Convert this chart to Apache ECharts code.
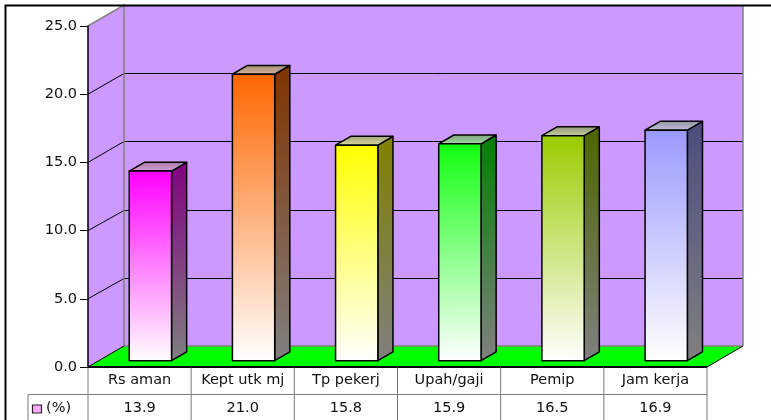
<!DOCTYPE html>
<html>
<head>
<meta charset="utf-8">
<script src="https://cdn.jsdelivr.net/npm/echarts@6/dist/echarts.min.js"></script>
<style>
  html, body { margin: 0; padding: 0; background: #fff; }
  #chart { width: 771px; height: 420px; }
</style>
</head>
<body>
<div id="chart"></div>
<script>
// data
const categories = ["Rs aman", "Kept utk mj", "Tp pekerj", "Upah/gaji", "Pemip", "Jam kerja"];
const values = [13.9, 21.0, 15.8, 15.9, 16.5, 16.9];
const seriesName = "(%)";
const yTicks = [0, 5, 10, 15, 20, 25];
const yTickLabels = ["0.0", "5.0", "10.0", "15.0", "20.0", "25.0"];

// styling
const barColors = ["#ff00ff", "#ff6600", "#ffff00", "#11ff11", "#99cc00", "#9999ff"];
const sideColors = ["#800080", "#803300", "#808000", "#008000", "#4c6600", "#4c4c80"];
const FONT = "DejaVu Sans";
const DX = 36, DY = -21; // depth of the 3d box

function mix(a, b, t) {
  const pa = [1, 3, 5].map((k) => parseInt(a.substr(k, 2), 16));
  const pb = [1, 3, 5].map((k) => parseInt(b.substr(k, 2), 16));
  const c = pa.map((v, i) => Math.round(v * (1 - t) + pb[i] * t));
  return "rgb(" + c.join(",") + ")";
}

const chart = echarts.init(document.getElementById("chart"), null, { renderer: "canvas" });

function renderWalls(params, api) {
  const cs = params.coordSys;
  const x0 = cs.x, x1 = cs.x + cs.width;
  const yt = cs.y, yb = cs.y + cs.height;
  const wall = "#cc99ff";
  const edge = "#808080";
  const children = [
    { type: "polygon", shape: { points: [[x0, yt], [x0 + DX, yt + DY], [x0 + DX, yb + DY], [x0, yb]] }, style: { fill: wall } },
    { type: "rect", shape: { x: x0 + DX, y: yt + DY, width: cs.width, height: cs.height }, style: { fill: wall } },
    { type: "polygon", shape: { points: [[x0, yb], [x1, yb], [x1 + DX, yb + DY], [x0 + DX, yb + DY]] }, style: { fill: "#00ff00" } }
  ];
  yTicks.forEach((v) => {
    if (v <= yTicks[0] || v >= yTicks[yTicks.length - 1]) return;
    const y = api.coord([0, v])[1];
    const yBack = Math.round(y + DY) + 0.5;
    children.push({ type: "line", shape: { x1: x0, y1: y, x2: x0 + DX, y2: yBack }, style: { stroke: "#000", lineWidth: 1 } });
    children.push({ type: "line", shape: { x1: x0 + DX, y1: yBack, x2: x1 + DX, y2: yBack }, style: { stroke: "#000", lineWidth: 1 } });
  });
  // wall edges
  children.push({ type: "polyline", shape: { points: [[x0, yt], [x0 + DX, yt + DY], [x0 + DX, yb + DY], [x1 + DX, yb + DY]] }, style: { stroke: edge, lineWidth: 1.5, fill: null } });
  children.push({ type: "line", shape: { x1: x1 + DX, y1: yt + DY, x2: x1 + DX, y2: yb + DY }, style: { stroke: edge, lineWidth: 1.5 } });
  children.push({ type: "line", shape: { x1: x0, y1: yb, x2: x0 + DX, y2: yb + DY }, style: { stroke: "#000", lineWidth: 1 } });
  children.push({ type: "line", shape: { x1: x1, y1: yb, x2: x1 + DX, y2: yb + DY }, style: { stroke: "#000", lineWidth: 1 } });
  return { type: "group", children: children };
}

function renderBar(params, api) {
  const i = api.value(0), v = api.value(1);
  const base = api.coord([i, 0]);
  const top = api.coord([i, v]);
  const colW = api.size([1, 0])[0];
  const w = colW * 0.41;
  const fx = DX * 0.3, fy = DY * 0.3;
  const bx = DX * 0.42, by = DY * 0.42;
  const l = base[0] - w / 2 + fx, r = l + w;
  const yb = base[1] + fy, yt = top[1] + fy;
  const c = barColors[i], s = sideColors[i];
  const stroke = { stroke: "#000", lineWidth: 1.5, lineJoin: "round" };
  return {
    type: "group",
    children: [
      {
        type: "polygon",
        shape: { points: [[r, yb], [r, yt], [r + bx, yt + by], [r + bx, yb + by]] },
        style: Object.assign({ fill: new echarts.graphic.LinearGradient(0, 0, 0, 1, [{ offset: 0, color: s }, { offset: 1, color: "#808080" }]) }, stroke)
      },
      {
        type: "polygon",
        shape: { points: [[l, yt], [r, yt], [r + bx, yt + by], [l + bx, yt + by]] },
        style: Object.assign({ fill: new echarts.graphic.LinearGradient(0, 1, 0, 0, [{ offset: 0, color: mix(c, "#d0d0d0", 0.75) }, { offset: 1, color: mix(c, "#909090", 0.85) }]) }, stroke)
      },
      {
        type: "rect",
        shape: { x: l, y: yt, width: w, height: yb - yt },
        style: Object.assign({ fill: new echarts.graphic.LinearGradient(0, 0, 0, 1, [{ offset: 0, color: c }, { offset: 1, color: "#ffffff" }]) }, stroke)
      }
    ]
  };
}

function renderTable(params, api) {
  const i = api.value(0), v = api.value(1);
  const cs = params.coordSys;
  const yb = cs.y + cs.height;
  const colW = api.size([1, 0])[0];
  const cx = api.coord([i, 0])[0];
  const l = cx - colW / 2, r = cx + colW / 2;
  const rowH = 27.5;
  const line = { stroke: "#7a7a7a", lineWidth: 1 };
  const children = [
    { type: "line", shape: { x1: l, y1: yb, x2: l, y2: yb + 60 }, style: line },
    { type: "line", shape: { x1: l, y1: yb + rowH, x2: r, y2: yb + rowH }, style: line },
    {
      type: "text",
      style: { x: cx, y: yb + rowH + 13.5, text: v.toFixed(1), fill: "#111", font: "14.5px '" + FONT + "'", align: "center", verticalAlign: "middle" }
    }
  ];
  if (i === categories.length - 1) {
    children.push({ type: "line", shape: { x1: r, y1: yb, x2: r, y2: yb + 60 }, style: line });
  }
  if (i === 0) {
    const lx = l - 60;
    children.push({ type: "line", shape: { x1: lx, y1: yb + rowH, x2: l, y2: yb + rowH }, style: line });
    children.push({ type: "line", shape: { x1: lx, y1: yb + rowH, x2: lx, y2: yb + 60 }, style: line });
    children.push({ type: "rect", shape: { x: lx + 4.5, y: yb + rowH + 10.5, width: 9, height: 8 }, style: { fill: "#ffaaff", stroke: "#222", lineWidth: 1.2 } });
    children.push({
      type: "text",
      style: { x: lx + 18, y: yb + rowH + 13.5, text: seriesName, fill: "#111", font: "14.5px '" + FONT + "'", align: "left", verticalAlign: "middle" }
    });
  }
  // front edge of the floor
  children.push({ type: "line", shape: { x1: l, y1: yb, x2: r, y2: yb }, style: { stroke: "#000", lineWidth: 2 } });
  return { type: "group", children: children };
}

const itemData = values.map((v, i) => [i, v]);

const option = {
  animation: false,
  backgroundColor: "#ffffff",
  grid: { left: 88, right: 64, top: 26, bottom: 53, containLabel: false },
  graphic: [
    { type: "rect", shape: { x: 5.5, y: 5.5, width: 820, height: 500 }, style: { fill: null, stroke: "#000", lineWidth: 2 }, z: 100 }
  ],
  xAxis: {
    type: "category",
    data: categories,
    axisLine: { show: false },
    axisTick: { show: false },
    axisLabel: { color: "#111", fontFamily: FONT, fontSize: 14.5, margin: 13, verticalAlign: "middle", interval: 0 }
  },
  yAxis: {
    type: "value",
    min: 0,
    max: 25,
    interval: 5,
    axisLine: { show: true, lineStyle: { color: "#000", width: 1.5 } },
    axisTick: { show: true, length: 8, lineStyle: { color: "#000", width: 1 } },
    axisLabel: {
      color: "#111",
      fontFamily: FONT,
      fontSize: 14.5,
      margin: 11,
      formatter: (val) => yTickLabels[yTicks.indexOf(val)]
    },
    splitLine: { show: false },
    z: 10
  },
  series: [
    { type: "custom", name: "walls", data: [[0, 0]], renderItem: renderWalls, z: 1, silent: true },
    { type: "custom", name: seriesName, data: itemData, renderItem: renderBar, z: 3 },
    { type: "custom", name: "table", data: itemData, renderItem: renderTable, z: 4, silent: true }
  ]
};

chart.setOption(option);
</script>
</body>
</html>
